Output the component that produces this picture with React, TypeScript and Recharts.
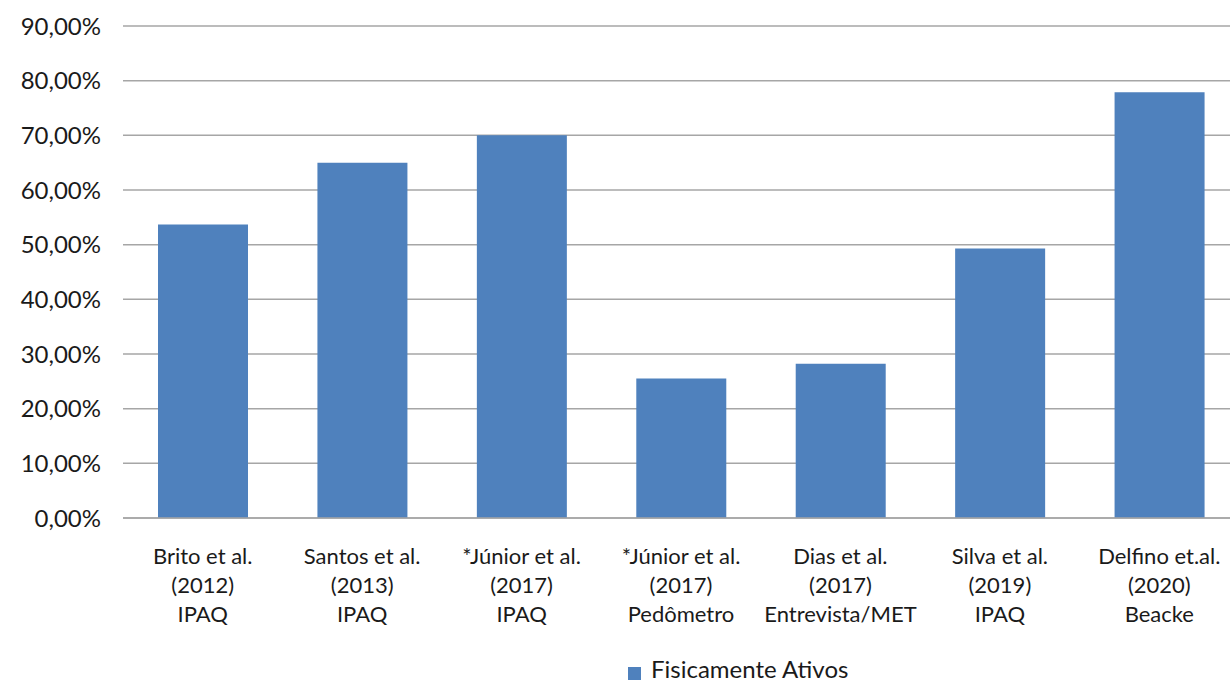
import React from 'react';
import { BarChart, Bar, XAxis, YAxis, CartesianGrid } from 'recharts';

// Studies and the share of physically active participants (%)
const studies = ['Brito et al.', 'Santos et al.', '*Júnior et al.', '*Júnior et al.', 'Dias et al.', 'Silva et al.', 'Delfino et.al.'];
const years = ['(2012)', '(2013)', '(2017)', '(2017)', '(2017)', '(2019)', '(2020)'];
const methods = ['IPAQ', 'IPAQ', 'IPAQ', 'Pedômetro', 'Entrevista/MET', 'IPAQ', 'Beacke'];
const activeShare = [53.7, 65.0, 70.0, 25.5, 28.2, 49.3, 77.9];
const yTicks = [0, 10, 20, 30, 40, 50, 60, 70, 80, 90];
const seriesName = 'Fisicamente Ativos';

const data = studies.map((s, i) => ({
  key: `${s}|${years[i]}|${methods[i]}`,
  ativos: activeShare[i],
}));

const FONT = 'Lato, "Open Sans", sans-serif';
const TEXT = '#1a1a1a';
const BAR_COLOR = '#4f81bd';

const CategoryTick = (props: any) => {
  const { x, y, payload } = props;
  const [a, b, c] = String(payload.value).split('|');
  return (
    <g transform={`translate(${x},${y})`}>
      <text textAnchor="middle" fill={TEXT} fontSize={22} fontFamily={FONT}>
        <tspan x={0} dy={38}>{a}</tspan>
        <tspan x={0} dy={29}>{b}</tspan>
        <tspan x={0} dy={29}>{c}</tspan>
      </text>
    </g>
  );
};

export default function App() {
  return (
    <div style={{ position: 'absolute', left: 0, top: 0, width: 1230, height: 683, overflow: 'hidden', background: '#fff' }}>
      <BarChart
        width={1239}
        height={683}
        data={data}
        margin={{ top: 26, right: 0, bottom: 0, left: 0 }}
        barSize={90}
      >
        <CartesianGrid vertical={false} stroke="#a6a6a6" strokeWidth={1.5} />
        <XAxis
          dataKey="key"
          tick={<CategoryTick />}
          tickLine={false}
          axisLine={{ stroke: '#a6a6a6', strokeWidth: 1.5 }}
          interval={0}
          height={165}
        />
        <YAxis
          domain={[0, 90]}
          ticks={yTicks}
          tickFormatter={(v: number) => `${v.toFixed(2).replace('.', ',')}%`}
          tick={{ fill: TEXT, fontSize: 24, fontFamily: FONT }}
          tickLine={false}
          axisLine={false}
          width={123}
          tickMargin={16}
        />
        <Bar dataKey="ativos" name={seriesName} fill={BAR_COLOR} isAnimationActive={false} />
      </BarChart>
      {/* legend: swatch + series name */}
      <div style={{ position: 'absolute', left: 628, top: 667, width: 13, height: 13, background: BAR_COLOR }} />
      <div
        style={{
          position: 'absolute',
          left: 651,
          top: 656,
          height: 26,
          lineHeight: '26px',
          whiteSpace: 'nowrap',
          fontFamily: FONT,
          fontSize: 24,
          color: TEXT,
        }}
      >
        {seriesName}
      </div>
    </div>
  );
}
